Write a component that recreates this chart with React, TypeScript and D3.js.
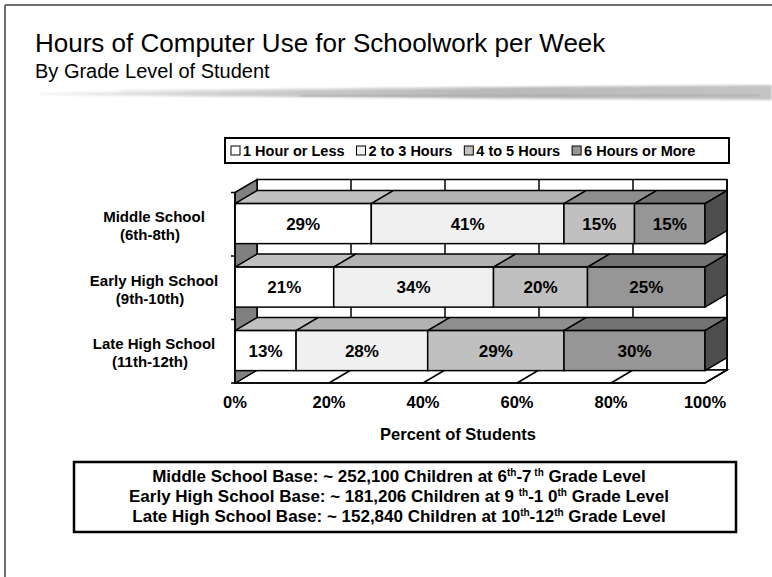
import React from "react";
import * as d3 from "d3";

const categories = ["Middle School", "Early High School", "Late High School"];
const categorySubLabels = ["(6th-8th)", "(9th-10th)", "(11th-12th)"];
const seriesNames = ["1 Hour or Less", "2 to 3 Hours", "4 to 5 Hours", "6 Hours or More"];
const oneHourOrLess = [29, 21, 13];
const twoToThreeHours = [41, 34, 28];
const fourToFiveHours = [15, 20, 29];
const sixHoursOrMore = [15, 25, 30];
const xTicks = [0, 20, 40, 60, 80, 100];
const frontColors = ["#FFFFFF", "#F0F0F0", "#C0C0C0", "#969696"];
const topColors = ["#C0C0C0", "#B2B2B2", "#8E8E8E", "#737373"];
const sideColor = "#4D4D4D";
const wallColor = "#808080";

const keys = ["s0", "s1", "s2", "s3"];
const table = categories.map((c, i) => ({
  cat: c,
  s0: oneHourOrLess[i],
  s1: twoToThreeHours[i],
  s2: fourToFiveHours[i],
  s3: sixHoursOrMore[i],
}));

const poly = (pts: number[][]) => "M" + pts.map((p) => p.join(",")).join("L") + "Z";

export default function App() {
  const W = 772, H = 577;
  const x = d3.scaleLinear().domain([0, 100]).range([235, 705]);
  const y = d3.scaleBand<string>().domain(categories).range([192.5, 383]);
  const dx = 22, dy = 13;
  const bw = y.bandwidth();
  const barOff = bw * 0.175;
  const barH = bw * 0.63;
  const stacked = d3.stack<any>().keys(keys)(table as any);
  const yTop = y.range()[0];
  const yBot = y.range()[1];
  const x0 = x(0), x1 = x(100);
  const font = "'Liberation Sans', Arial, sans-serif";

  const legendFont = 14.5;
  const legendWidths = [7.0, 5.78, 5.78, 7.67].map((e) => e * legendFont);
  let lx = 231;
  const legendItems = seriesNames.map((n, i) => {
    const item = { name: n, sx: lx, tx: lx + 12, color: frontColors[i] };
    lx = lx + 12 + legendWidths[i] + 12;
    return item;
  });

  return (
    <svg width={W} height={H} style={{ position: "absolute", left: 0, top: 0, background: "#fff" }} fontFamily={font}>
      <defs>
        <linearGradient id="brushG" x1="0" x2="1" y1="0" y2="0">
          <stop offset="0" stopColor="#f2f2f2" />
          <stop offset="0.25" stopColor="#cfcfcf" />
          <stop offset="0.6" stopColor="#b8b8b8" />
          <stop offset="1" stopColor="#c4c4c4" />
        </linearGradient>
        <filter id="blur" x="-5%" y="-50%" width="110%" height="200%">
          <feGaussianBlur stdDeviation="1.3" />
        </filter>
      </defs>
      <rect x={0} y={0} width={W} height={H} fill="#fff" />
      <line x1={5} y1={5} x2={W} y2={5} stroke="#6e6e6e" strokeWidth={2} />
      <line x1={5} y1={5} x2={5} y2={H} stroke="#6e6e6e" strokeWidth={2} />

      <text x={35} y={52} fontSize={26} fill="#000">Hours of Computer Use for Schoolwork per Week</text>
      <text x={35} y={78} fontSize={20} fill="#000">By Grade Level of Student</text>
      <path
        d="M40,93 C200,91 420,87 772,85 L772,100 C520,99 260,97 40,95 Z"
        fill="url(#brushG)"
        filter="url(#blur)"
      />
      <path d="M120,91 L480,88" stroke="#d6d6d6" strokeWidth={1} filter="url(#blur)" />
      <path d="M300,96 L760,95" stroke="#a8a8a8" strokeWidth={1.5} filter="url(#blur)" />

      <rect x={225} y={138} width={504} height={25} fill="#fff" stroke="#000" strokeWidth={2} />
      {legendItems.map((it, i) => (
        <g key={i}>
          <rect x={it.sx} y={146} width={9} height={9} fill={it.color} stroke="#000" strokeWidth={1} />
          <text x={it.tx} y={155.5} fontSize={legendFont} fontWeight="bold">{it.name}</text>
        </g>
      ))}

      <rect x={x0 + dx} y={yTop - dy} width={x1 - x0} height={yBot - yTop} fill="#fff" stroke="#000" strokeWidth={1.5} />
      {xTicks.map((t) => (
        <line key={"bg" + t} x1={x(t) + dx} x2={x(t) + dx} y1={yTop - dy} y2={yBot - dy} stroke="#000" strokeWidth={1.5} />
      ))}
      <path
        d={poly([[x0, yTop], [x0 + dx, yTop - dy], [x0 + dx, yBot - dy], [x0, yBot]])}
        fill={wallColor}
        stroke="#000"
        strokeWidth={1.5}
      />
      <path
        d={poly([[x0, yBot], [x1, yBot], [x1 + dx, yBot - dy], [x0 + dx, yBot - dy]])}
        fill="#fff"
        stroke="#000"
        strokeWidth={1.5}
      />
      {xTicks.map((t) => (
        <line key={"fl" + t} x1={x(t)} y1={yBot} x2={x(t) + dx} y2={yBot - dy} stroke="#000" strokeWidth={1.5} />
      ))}
      <path d={poly([[x0, yBot], [x0 + dx, yBot - dy], [x0, yBot - dy + 0.5]])} fill={wallColor} stroke="#000" strokeWidth={1} />

      {categories.map((c, ci) => {
        const t = (y(c) as number) + barOff;
        return (
          <g key={c}>
            {stacked.map((s, si) => {
              const a = s[ci][0], b = s[ci][1];
              return (
                <g key={si}>
                  <path
                    d={poly([[x(a), t], [x(b), t], [x(b) + dx, t - dy], [x(a) + dx, t - dy]])}
                    fill={topColors[si]}
                    stroke="#000"
                    strokeWidth={1.5}
                    strokeLinejoin="round"
                  />
                  <rect x={x(a)} y={t} width={x(b) - x(a)} height={barH} fill={frontColors[si]} stroke="#000" strokeWidth={1.5} />
                  <text
                    x={(x(a) + x(b)) / 2}
                    y={t + barH / 2 + 6}
                    textAnchor="middle"
                    fontSize={17}
                    fontWeight="bold"
                  >
                    {`${b - a}%`}
                  </text>
                </g>
              );
            })}
            <path
              d={poly([[x1, t], [x1 + dx, t - dy], [x1 + dx, t + barH - dy], [x1, t + barH]])}
              fill={sideColor}
              stroke="#000"
              strokeWidth={1.5}
              strokeLinejoin="round"
            />
          </g>
        );
      })}

      {[...categories.map((c) => y(c) as number), yBot].map((v, i) => (
        <line key={"yt" + i} x1={231} x2={x0} y1={v} y2={v} stroke="#000" strokeWidth={1.5} />
      ))}
      <line x1={x0} x2={x0} y1={yTop} y2={yBot} stroke="#000" strokeWidth={1.5} />
      <line x1={x0} x2={x1} y1={yBot} y2={yBot} stroke="#000" strokeWidth={1.5} />

      {categories.map((c, i) => {
        const bc = (y(c) as number) + bw / 2;
        return (
          <g key={"cl" + i} fontWeight="bold" fontSize={15}>
            <text x={154} y={bc - 2} textAnchor="middle">{c}</text>
            <text x={150} y={bc + 16} textAnchor="middle">{categorySubLabels[i]}</text>
          </g>
        );
      })}

      {xTicks.map((t) => (
        <text key={"xl" + t} x={x(t)} y={408} textAnchor="middle" fontSize={16.5} fontWeight="bold">
          {`${t}%`}
        </text>
      ))}
      <text x={458} y={440} textAnchor="middle" fontSize={16.5} fontWeight="bold">Percent of Students</text>

      <rect x={74} y={462} width={662} height={70} fill="#fff" stroke="#000" strokeWidth={2.5} />
      <g fontSize={17} fontWeight="bold" textAnchor="middle">
        <text x={399} y={482}>
          Middle School Base: ~ 252,100 Children at 6<tspan fontSize={10} dy={-6}>th</tspan>
          <tspan dy={6}>-7</tspan>
          <tspan fontSize={10} dy={-6}> th</tspan>
          <tspan dy={6}> Grade Level</tspan>
        </text>
        <text x={399} y={502}>
          Early High School Base: ~ 181,206 Children at 9 <tspan fontSize={10} dy={-6}>th</tspan>
          <tspan dy={6}>-1 0</tspan>
          <tspan fontSize={10} dy={-6}>th</tspan>
          <tspan dy={6}> Grade Level</tspan>
        </text>
        <text x={399} y={522}>
          Late High School Base: ~ 152,840 Children at 10<tspan fontSize={10} dy={-6}>th</tspan>
          <tspan dy={6}>-12</tspan>
          <tspan fontSize={10} dy={-6}>th</tspan>
          <tspan dy={6}> Grade Level</tspan>
        </text>
      </g>
    </svg>
  );
}
